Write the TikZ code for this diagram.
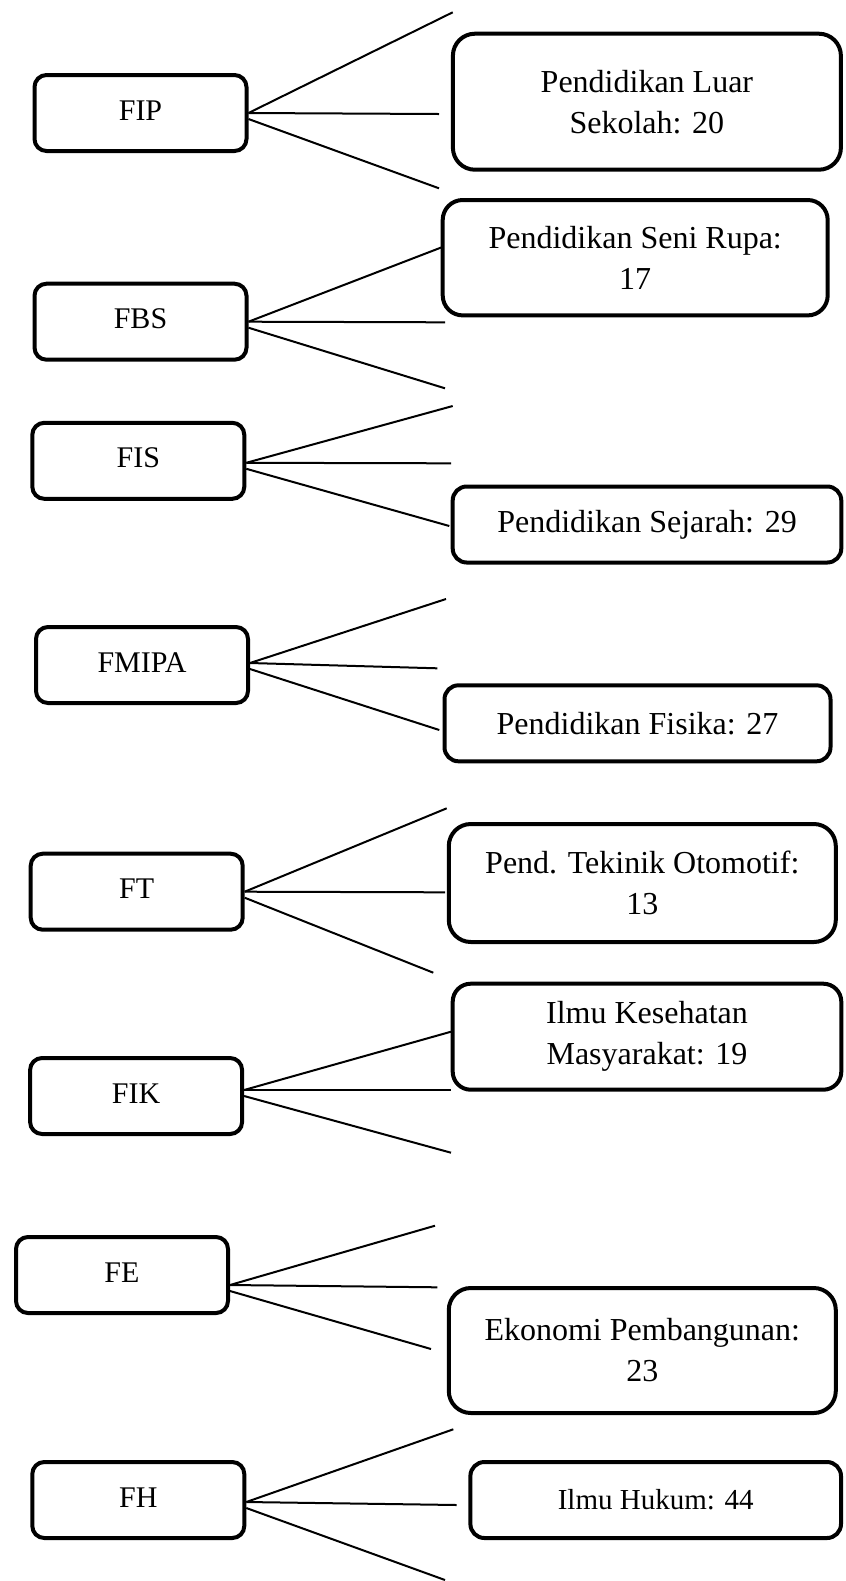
\documentclass[tikz,border=0pt]{standalone}
\usepackage{fontspec}
\setmainfont{Liberation Serif}
\usetikzlibrary{positioning}

\tikzset{
  fak/.style={draw, line width=2pt, rounded corners=6pt, minimum width=106pt,
    minimum height=38pt, inner sep=0pt, text height=11pt, text depth=4pt,
    font=\fontsize{15}{18}\selectfont},
  prodi/.style={draw, line width=2pt, rounded corners=7pt, inner sep=0pt,
    align=center, font=\fontsize{16}{20.5}\selectfont},
  garis/.style={line width=1pt}
}

\begin{document}
\begin{tikzpicture}[x=0.5pt, y=-0.5pt]
  \useasboundingbox (0,0) rectangle (846,1581);

  % 學院
  \node[fak] (fip)   at (140.5,113)   {FIP};
  \node[fak] (fbs)   at (140.5,321.7) {FBS};
  \node[fak] (fis)   at (138.3,460.8) {FIS};
  \node[fak] (fmipa) at (142,665)     {FMIPA};
  \node[fak] (ft)    at (136.7,891.7) {FT};
  \node[fak] (fik)   at (136.1,1096)  {FIK};
  \node[fak] (fe)    at (122,1275)    {FE};
  \node[fak] (fh)    at (138.3,1500)  {FH};

  % 科系
  \node[prodi, minimum width=194pt, minimum height=68pt, rounded corners=11pt]
    (pls) at (646.9,101.7) {Pendidikan Luar\\Sekolah: 20};
  \node[prodi, minimum width=192.5pt, minimum height=57.7pt, rounded corners=10pt]
    (psr) at (635.2,257.7) {Pendidikan Seni Rupa:\\17};
  \node[prodi, minimum width=194.3pt, minimum height=38pt]
    (psj) at (647,524.5) {Pendidikan Sejarah: 29};
  \node[prodi, minimum width=193pt, minimum height=38pt]
    (pfis) at (637.5,723.3) {Pendidikan Fisika: 27};
  \node[prodi, minimum width=193.5pt, minimum height=59pt, rounded corners=11pt]
    (pto) at (642.3,883) {Pend. Tekinik Otomotif:\\13};
  \node[prodi, minimum width=194.3pt, minimum height=53pt, rounded corners=9pt]
    (ikm) at (647,1036.7) {Ilmu Kesehatan\\Masyarakat: 19};
  \node[prodi, minimum width=193.5pt, minimum height=62.5pt, rounded corners=11pt]
    (ep) at (642.3,1350.5) {Ekonomi Pembangunan:\\23};
  \node[prodi, minimum width=185.3pt, minimum height=38pt, font=\fontsize{14.5}{17}\selectfont]
    (ih) at (655.7,1500) {Ilmu Hukum: 44};

  % 線的末端
  \coordinate (fip1) at (452.7,12.3);   \coordinate (fip2) at (439,114);      \coordinate (fip3) at (439,188.3);
  \coordinate (fbs1) at (441.7,247.3);  \coordinate (fbs2) at (445,322.3);    \coordinate (fbs3) at (445,388.3);
  \coordinate (fis1) at (452.7,406);    \coordinate (fis2) at (451,463.3);    \coordinate (fis3) at (449.3,526);
  \coordinate (fmipa1) at (446,599);    \coordinate (fmipa2) at (437.3,668.3); \coordinate (fmipa3) at (439.3,730);
  \coordinate (ft1) at (446.7,808.3);   \coordinate (ft2) at (445,892.3);     \coordinate (ft3) at (433.3,972.7);
  \coordinate (fik1) at (451,1031.7);   \coordinate (fik2) at (451,1090);     \coordinate (fik3) at (451,1152.7);
  \coordinate (fe1) at (435,1225.7);    \coordinate (fe2) at (437.3,1287.3);  \coordinate (fe3) at (431,1349);
  \coordinate (fh1) at (453.3,1429.3);  \coordinate (fh2) at (456.7,1505);    \coordinate (fh3) at (445,1580);

  % 分支線
  \foreach \f/\dy in {fip/0, fbs/0, fis/-1, fmipa/1, ft/0, fik/3, fe/-5, fh/-1}{
    \draw[garis] ([yshift=\dy*1pt]\f.east) -- (\f1);
    \draw[garis] ([yshift=\dy*1pt]\f.east) -- (\f2);
    \draw[garis] ([yshift=\dy*1pt-3pt]\f.east) -- (\f3);
  }
\end{tikzpicture}
\end{document}
